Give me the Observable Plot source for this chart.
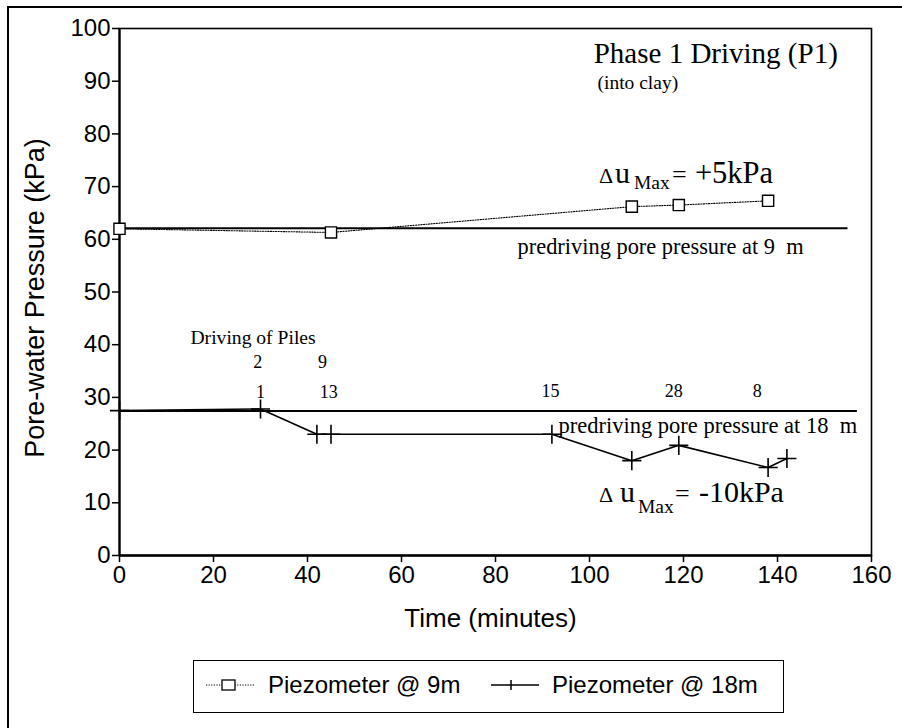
<!DOCTYPE html>
<html>
<head>
<meta charset="utf-8">
<script src="https://cdn.jsdelivr.net/npm/d3@7"></script>
<script src="https://cdn.jsdelivr.net/npm/@observablehq/plot@0.6"></script>
<style>
  html, body { margin: 0; padding: 0; background: #fff; }
  #wrap { position: relative; width: 902px; height: 728px; overflow: hidden; background: #fff; }
  #outer { position: absolute; left: 7px; top: 6px; right: -10px; bottom: -10px; border-left: 2.5px solid #000; border-top: 2.5px solid #000; }
  #chart { position: absolute; left: 0; top: 0; }
  #legend { position: absolute; left: 193px; top: 660px; width: 591px; height: 53px; border: 1.6px solid #000; box-sizing: border-box;
            font-family: "Liberation Sans", Arial, sans-serif; font-size: 24px; }
  .item { display: flex; align-items: center; position: absolute; top: 9px; }
  .item svg { display: block; }
</style>
</head>
<body>
<div id="wrap">
  <div id="outer"></div>
  <div id="chart"></div>
  <div id="legend"></div>
</div>
<script>
// ---- data ----
const time9 = [0, 45, 109, 119, 138];
const pressure9 = [62.0, 61.3, 66.2, 66.5, 67.3];
const time18 = [0, 30, 42, 45, 92, 109, 119, 138, 142];
const pressure18 = [27.5, 27.8, 23.0, 23.0, 23.0, 18.0, 20.9, 16.7, 18.4];
const predriving9 = 62.1;
const predriving18 = 27.4;
const series9Name = "Piezometer @ 9m";
const series18Name = "Piezometer @ 18m";
const xTicks = [0, 20, 40, 60, 80, 100, 120, 140, 160];
const yTicks = [0, 10, 20, 30, 40, 50, 60, 70, 80, 90, 100];
// pile numbers driven (label, time, row)
const pileLabels = ["2", "9", "1", "13", "15", "28", "8"];
const pileTimes = [29.4, 43.2, 30.0, 44.5, 91.7, 117.9, 135.7];
const pileRowY = [35.5, 35.5, 29.8, 29.8, 30.0, 30.0, 30.0];

const d9 = time9.map((t, i) => ({t, p: pressure9[i]}));
const d18 = time18.map((t, i) => ({t, p: pressure18[i]}));
const piles = pileLabels.map((s, i) => ({s, t: pileTimes[i], y: pileRowY[i]}));

const serif = "Liberation Serif, Times New Roman, serif";

// annotations: anchor in data units, pixel offsets for sub-pieces
const notes = [
  {text: "Phase 1 Driving (P1)", t: 100.9, y: 93.5, size: 29, dx: 0, dy: 0},
  {text: "(into clay)", t: 101.7, y: 88.6, size: 19.5, dx: 0, dy: 0},
  {text: "\u0394", t: 102.0, y: 70.7, size: 22, dx: 0, dy: 0},
  {text: "u", t: 102.0, y: 70.7, size: 30, dx: 16, dy: 0},
  {text: "Max", t: 102.0, y: 70.7, size: 19.5, dx: 35, dy: 6},
  {text: "=", t: 102.0, y: 70.7, size: 26, dx: 73, dy: 0},
  {text: "+5kPa", t: 102.0, y: 70.7, size: 30.5, dx: 96, dy: 0},
  {text: "predriving pore pressure at 9  m", t: 84.7, y: 57.2, size: 22.4, dx: 0, dy: 0},
  {text: "predriving pore pressure at 18  m", t: 93.4, y: 23.3, size: 22.5, dx: 0, dy: 0},
  {text: "\u0394", t: 102.0, y: 10.1, size: 22, dx: 0, dy: 0},
  {text: "u", t: 102.0, y: 10.1, size: 30, dx: 21, dy: 0},
  {text: "Max", t: 102.0, y: 10.1, size: 19.5, dx: 39, dy: 11},
  {text: "=", t: 102.0, y: 10.1, size: 26, dx: 76, dy: 0},
  {text: "-10kPa", t: 102.0, y: 10.1, size: 30, dx: 100, dy: 0},
  {text: "Driving of Piles", t: 15.1, y: 40.2, size: 19.6, dx: 0, dy: 0}
];

const chart = Plot.plot({
  width: 902,
  height: 650,
  marginLeft: 119,
  marginRight: 31,
  marginTop: 28,
  marginBottom: 95,
  style: {fontFamily: "Liberation Sans, Arial, sans-serif", fontSize: "24px", background: "transparent", color: "#000"},
  x: {domain: [0, 160], ticks: xTicks, label: null},
  y: {domain: [0, 100], ticks: yTicks, label: null},
  marks: [
    Plot.frame({stroke: "#000", strokeWidth: 1.6}),
    Plot.ruleX([0], {stroke: "#000", strokeWidth: 2.2}),
    Plot.ruleY([0], {stroke: "#000", strokeWidth: 2.6}),
    Plot.axisX({ticks: xTicks, tickSize: 7, tickPadding: 3, fontSize: 24, strokeWidth: 1.5, label: null}),
    Plot.axisY({ticks: yTicks, tickSize: 7, tickPadding: 2, fontSize: 24, strokeWidth: 1.5, label: null}),
    Plot.text(["Time (minutes)"], {frameAnchor: "bottom", textAnchor: "middle", dx: -5, dy: 71, lineAnchor: "bottom", fontSize: 26, fill: "#000"}),
    Plot.text(["Pore-water Pressure (kPa)"], {frameAnchor: "left", textAnchor: "middle", rotate: -90, dx: -76, dy: 6, lineAnchor: "bottom", fontSize: 27, fill: "#000"}),
    // predriving pore pressure lines
    Plot.ruleY([predriving9], {x1: 0, x2: 155, stroke: "#000", strokeWidth: 2}),
    Plot.ruleY([predriving18], {x1: 0, x2: 157, stroke: "#000", strokeWidth: 2}),
    // 9 m piezometer
    Plot.line(d9, {x: "t", y: "p", stroke: "#000", strokeWidth: 1.1, strokeDasharray: "1.2,1.4"}),
    Plot.dot(d9, {x: "t", y: "p", symbol: "square", r: 6.3, fill: "#fff", stroke: "#000", strokeWidth: 1.4}),
    // 18 m piezometer
    Plot.line(d18, {x: "t", y: "p", stroke: "#000", strokeWidth: 1.6}),
    Plot.dot(d18, {x: "t", y: "p", symbol: "plus", r: 6.2, stroke: "#000", strokeWidth: 1.6}),
    // pile numbers
    Plot.text(piles, {x: "t", y: "y", text: "s", lineAnchor: "bottom", fontFamily: serif, fontSize: 18, fill: "#000"}),
    // annotations
    ...notes.map(n => Plot.text([n], {x: "t", y: "y", text: "text", textAnchor: "start", lineAnchor: "bottom",
      fontFamily: serif, fontSize: n.size, dx: n.dx, dy: n.dy, fill: "#000"}))
  ]
});
document.getElementById("chart").appendChild(chart);

// legend
const legend = document.getElementById("legend");
function addItem(name, left, textLeft, kind) {
  const item = document.createElement("div");
  item.className = "item";
  item.style.left = left + "px";
  const ns = "http://www.w3.org/2000/svg";
  const svg = document.createElementNS(ns, "svg");
  svg.setAttribute("width", 50); svg.setAttribute("height", 30);
  const line = document.createElementNS(ns, "line");
  line.setAttribute("x1", 0); line.setAttribute("x2", 48);
  line.setAttribute("y1", 15); line.setAttribute("y2", 15);
  line.setAttribute("stroke", "#000");
  if (kind === "square") { line.setAttribute("stroke-dasharray", "1.2,1.4"); line.setAttribute("stroke-width", 1.1); }
  else line.setAttribute("stroke-width", 1.5);
  svg.appendChild(line);
  if (kind === "square") {
    const r = document.createElementNS(ns, "rect");
    r.setAttribute("x", 16); r.setAttribute("y", 10); r.setAttribute("width", 13); r.setAttribute("height", 10);
    r.setAttribute("fill", "#fff"); r.setAttribute("stroke", "#000"); r.setAttribute("stroke-width", 1.3);
    svg.appendChild(r);
  } else {
    const v = document.createElementNS(ns, "line");
    v.setAttribute("x1", 20); v.setAttribute("x2", 20); v.setAttribute("y1", 10); v.setAttribute("y2", 20);
    v.setAttribute("stroke", "#000"); v.setAttribute("stroke-width", 1.5);
    svg.appendChild(v);
  }
  item.appendChild(svg);
  const label = document.createElement("span");
  label.textContent = name;
  label.style.marginLeft = (textLeft - left - 50) + "px";
  item.appendChild(label);
  legend.appendChild(item);
}
addItem(series9Name, 12, 74, "square");
addItem(series18Name, 297, 358, "plus");
</script>
</body>
</html>
